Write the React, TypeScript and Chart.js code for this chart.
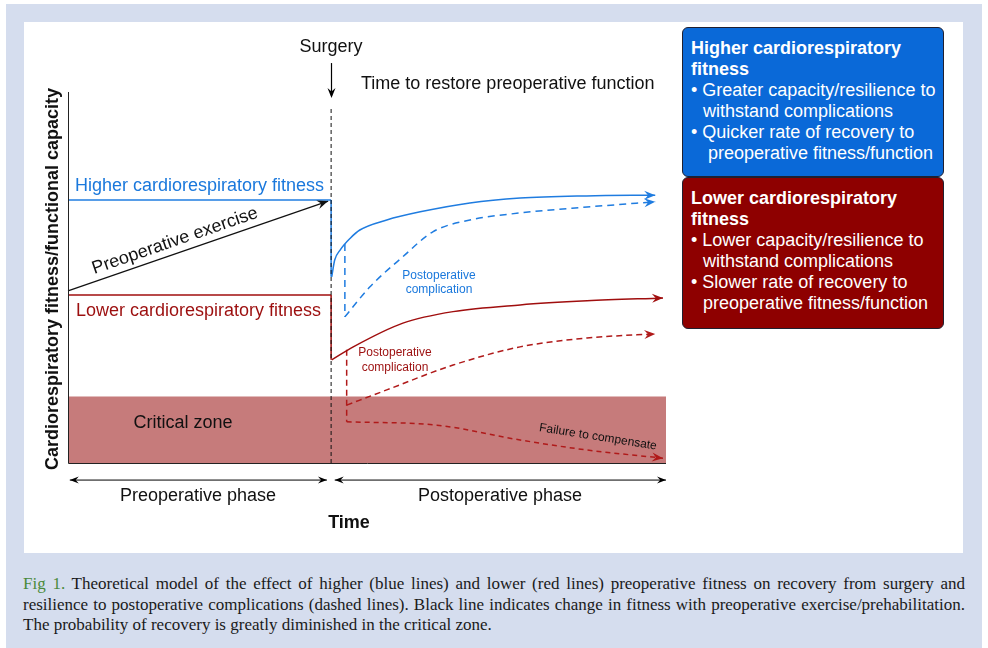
import React, { useEffect, useRef } from "react";
import { Chart, registerables } from "chart.js";

Chart.register(...registerables);

// ---- Data (conceptual fitness model, x = time 0..100, y = fitness 0..100) ----
const surgeryX = 44;
const higherPreY = 70.9;
const lowerPreY = 45.3;
const criticalTop = 17.9;

const exerciseX = [0, 43.5];
const exerciseY = [46.4, 70.6];

const blueRecoveryX = [44.1, 44.6, 45.5, 47.2, 48.8, 53.3, 58.9, 67.2, 75.6, 86.7, 98.2];
const blueRecoveryY = [50.2, 54.7, 57.4, 60.6, 62.8, 65.5, 67.7, 70.1, 71.4, 72.0, 72.2];

const blueDropX = [46.3, 46.3];
const blueDropY = [59.0, 39.4];
const blueComplX = [46.3, 50.5, 56.0, 61.0, 67.2, 75.6, 86.8, 98.2];
const blueComplY = [39.4, 47.5, 55.6, 62.3, 65.5, 67.4, 69.0, 70.4];

const redRecoveryX = [44.1, 47.7, 56.0, 64.4, 75.6, 86.8, 99.5];
const redRecoveryY = [27.8, 31.3, 37.7, 40.8, 42.6, 43.7, 44.5];

const redDropX = [46.6, 46.6];
const redDropY = [30.5, 11.1];
const redComplX = [46.6, 53.3, 64.4, 75.6, 86.8, 98.2];
const redComplY = [15.6, 19.7, 26.4, 31.3, 33.7, 34.8];

const failureX = [46.6, 61.7, 75.6, 86.8, 99.5];
const failureY = [11.1, 10.2, 6.2, 3.5, 1.3];

// ---- Text ----
const yTitle = "Cardiorespiratory fitness/functional capacity";
const xTitle = "Time";
const phaseLabels = ["Preoperative phase", "Postoperative phase"];
const blueBoxTitle = ["Higher cardiorespiratory", "fitness"];
const blueBoxBullets = [
  ["Greater capacity/resilience to", "withstand complications"],
  ["Quicker rate of recovery to", " preoperative fitness/function"],
];
const redBoxTitle = ["Lower cardiorespiratory", "fitness"];
const redBoxBullets = [
  ["Lower capacity/resilience to", "withstand complications"],
  ["Slower rate of recovery to", "preoperative fitness/function"],
];
const captionLines = [
  "Theoretical model of the effect of higher (blue lines) and lower (red lines) preoperative fitness on recovery from surgery and",
  "resilience to postoperative complications (dashed lines). Black line indicates change in fitness with preoperative exercise/prehabilitation.",
  "The probability of recovery is greatly diminished in the critical zone.",
];

const BLUE = "#1f7ce0";
const BLUE_TXT = "#1a78dc";
const RED = "#a00e0e";
const RED_D = "#b01a1a";
const RED_TXT = "#9c0f0f";
const ZONE = "#c67b7b";
const SANS = '"Liberation Sans", Arial, sans-serif';

const pts = (xs: number[], ys: number[]) => xs.map((x, i) => ({ x, y: ys[i] }));

function arrowHead(ctx: CanvasRenderingContext2D, fx: number, fy: number, tx: number, ty: number, color: string, len = 10, w = 4) {
  const a = Math.atan2(ty - fy, tx - fx);
  const c = Math.cos(a), s = Math.sin(a);
  ctx.save();
  ctx.fillStyle = color;
  ctx.setLineDash([]);
  ctx.beginPath();
  ctx.moveTo(tx, ty);
  ctx.lineTo(tx - len * c + w * s, ty - len * s - w * c);
  ctx.lineTo(tx - 0.65 * len * c, ty - 0.65 * len * s);
  ctx.lineTo(tx - len * c - w * s, ty - len * s + w * c);
  ctx.closePath();
  ctx.fill();
  ctx.restore();
}

const OX = 24, OY = 22; // canvas offset on page

const annot = {
  id: "annot",
  afterDatasetsDraw(chart: any) {
    const ctx: CanvasRenderingContext2D = chart.ctx;
    const xs = chart.scales.x, ys = chart.scales.y;
    const X = (v: number) => xs.getPixelForValue(v);
    const Y = (v: number) => ys.getPixelForValue(v);
    const P = (px: number, py: number) => [px - OX, py - OY];

    // arrowheads at ends of flagged datasets
    chart.data.datasets.forEach((ds: any, i: number) => {
      if (!ds.arrow) return;
      const meta = chart.getDatasetMeta(i);
      const d = meta.data;
      const last = d[d.length - 1];
      const prev = d[d.length - 2];
      let fx = prev.x, fy = prev.y;
      if (last.cp1x !== undefined && Math.hypot(last.cp1x - last.x, last.cp1y - last.y) > 2) {
        fx = last.cp1x; fy = last.cp1y;
      }
      arrowHead(ctx, fx, fy, last.x, last.y, ds.borderColor, 11, 4.5);
    });

    ctx.save();
    ctx.setLineDash([]);
    // axes
    ctx.strokeStyle = "#222";
    ctx.lineWidth = 1;
    ctx.beginPath();
    ctx.moveTo(X(0) + 0.5, Y(100));
    ctx.lineTo(X(0) + 0.5, Y(0) + 0.5);
    ctx.lineTo(X(100), Y(0) + 0.5);
    ctx.stroke();

    // surgery arrow
    const sx = Math.round(X(surgeryX)) + 0.5;
    ctx.strokeStyle = "#000";
    ctx.lineWidth = 1.2;
    ctx.beginPath();
    ctx.moveTo(sx, Y(107.8));
    ctx.lineTo(sx, Y(99));
    ctx.stroke();
    arrowHead(ctx, sx, Y(107.8), sx, Y(98.4), "#000", 10, 4);

    // phase arrows
    const pyA = Y(-4.6);
    const seg = (a: number, b: number) => {
      ctx.beginPath();
      ctx.moveTo(a, pyA);
      ctx.lineTo(b, pyA);
      ctx.stroke();
      arrowHead(ctx, b, pyA, a, pyA, "#000", 9, 3.5);
      arrowHead(ctx, a, pyA, b, pyA, "#000", 9, 3.5);
    };
    ctx.lineWidth = 1;
    seg(X(0.3), X(43.3));
    seg(X(44.6), X(100));

    // texts
    const txt = (t: string, px: number, py: number, font: string, color: string, align: CanvasTextAlign = "center", rot = 0) => {
      const [cx, cy] = P(px, py);
      ctx.save();
      ctx.translate(cx, cy);
      ctx.rotate(rot);
      ctx.font = font;
      ctx.fillStyle = color;
      ctx.textAlign = align;
      ctx.textBaseline = "middle";
      ctx.fillText(t, 0, 0);
      ctx.restore();
    };
    txt("Surgery", 331, 47, `18px ${SANS}`, "#111");
    txt("Time to restore preoperative function", 361, 84, `18px ${SANS}`, "#111", "left");
    txt("Higher cardiorespiratory fitness", 75, 186, `18px ${SANS}`, BLUE_TXT, "left");
    txt("Lower cardiorespiratory fitness", 76, 311, `18px ${SANS}`, RED_TXT, "left");
    txt("Preoperative exercise", 175, 241, `18px ${SANS}`, "#111", "center", -19 * Math.PI / 180);
    txt("Postoperative", 439, 276, `12px ${SANS}`, BLUE_TXT);
    txt("complication", 439, 290, `12px ${SANS}`, BLUE_TXT);
    txt("Postoperative", 395, 353, `12px ${SANS}`, RED_TXT);
    txt("complication", 395, 368, `12px ${SANS}`, RED_TXT);
    txt("Failure to compensate", 598, 437, `12px ${SANS}`, "#111", "center", 8.9 * Math.PI / 180);
    txt("Critical zone", 183, 423, `18px ${SANS}`, "#111");
    txt(phaseLabels[0], 198, 496, `18px ${SANS}`, "#111");
    txt(phaseLabels[1], 500, 496, `18px ${SANS}`, "#111");
    txt(xTitle, 349, 523, `bold 18px ${SANS}`, "#111");
    txt(yTitle, 53, 279, `bold 18px ${SANS}`, "#111", "center", -Math.PI / 2);
    ctx.restore();
  },
};

function ChartPanel() {
  const ref = useRef<HTMLCanvasElement>(null);
  useEffect(() => {
    if (!ref.current) return;
    const line = (data: any[], color: string, opts: any = {}) => ({
      data,
      borderColor: color,
      backgroundColor: color,
      borderWidth: 1.5,
      pointRadius: 0,
      fill: false,
      clip: false,
      tension: 0,
      ...opts,
    });
    const chart = new Chart(ref.current, {
      type: "line",
      data: {
        datasets: [
          line(pts([0, surgeryX], [higherPreY, higherPreY]), BLUE),
          line(pts([surgeryX, surgeryX], [higherPreY, blueRecoveryY[0]]), BLUE),
          line(pts(blueRecoveryX, blueRecoveryY), BLUE, { cubicInterpolationMode: "monotone", arrow: true }),
          line(pts(blueDropX, blueDropY), BLUE, { borderDash: [7, 5] }),
          line(pts(blueComplX, blueComplY), BLUE, { cubicInterpolationMode: "monotone", borderDash: [7, 5], arrow: true }),
          line(pts([0, surgeryX], [lowerPreY, lowerPreY]), RED),
          line(pts([surgeryX, surgeryX], [lowerPreY, redRecoveryY[0]]), RED),
          line(pts(redRecoveryX, redRecoveryY), RED, { cubicInterpolationMode: "monotone", arrow: true }),
          line(pts(redDropX, redDropY), RED_D, { borderDash: [6, 4] }),
          line(pts(redComplX, redComplY), RED_D, { cubicInterpolationMode: "monotone", borderDash: [6, 4], arrow: true }),
          line(pts(failureX, failureY), RED_D, { cubicInterpolationMode: "monotone", borderDash: [5, 4], arrow: true }),
          line(pts(exerciseX, exerciseY), "#111", { borderWidth: 1.2, arrow: true }),
          line(pts([surgeryX, surgeryX], [0, 95.7]), "#111", { borderWidth: 1, borderDash: [4, 3], order: -1 }),
          line(pts([0, 100], [criticalTop, criticalTop]), ZONE, {
            borderWidth: 0,
            fill: "origin",
            backgroundColor: ZONE,
            order: 100,
          }),
        ] as any,
      },
      options: {
        responsive: false,
        animation: false,
        devicePixelRatio: 1,
        layout: { padding: { left: 44, top: 70, right: 297, bottom: 90 } },
        scales: {
          x: { type: "linear", min: 0, max: 100, display: false },
          y: { type: "linear", min: 0, max: 100, display: false },
        },
        plugins: { legend: { display: false }, tooltip: { enabled: false } },
      } as any,
      plugins: [annot],
    });
    return () => chart.destroy();
  }, []);
  return <canvas ref={ref} width={939} height={531} style={{ position: "absolute", left: OX, top: OY, width: 939, height: 531 }} />;
}

function InfoBox({ top, height, bg, title, bullets }: any) {
  return (
    <div
      style={{
        position: "absolute",
        left: 682,
        top,
        width: 262,
        height,
        background: bg,
        border: "1px solid #202030",
        borderRadius: 6,
        boxSizing: "border-box",
        padding: "10px 0 0 8px",
        color: "#fff",
        fontFamily: SANS,
        fontSize: 18,
        lineHeight: "21px",
        whiteSpace: "nowrap",
      }}
    >
      <div style={{ fontWeight: "bold" }}>
        {title[0]}
        <br />
        {title[1]}
      </div>
      {bullets.map((b: string[], i: number) => (
        <div key={i} style={{ paddingLeft: 12, textIndent: -12, whiteSpace: "pre" }}>
          {"• " + b[0]}
          <br />
          {b[1]}
        </div>
      ))}
    </div>
  );
}

export default function App() {
  return (
    <div style={{ position: "absolute", left: 0, top: 0, width: 988, height: 648, background: "#fff", overflow: "hidden" }}>
      <div style={{ position: "absolute", left: 6, top: 4, width: 976, height: 644, background: "#d5ddee" }} />
      <div style={{ position: "absolute", left: 24, top: 22, width: 939, height: 531, background: "#fff" }} />
      <ChartPanel />
      <InfoBox top={27} height={150} bg="#0a69d8" title={blueBoxTitle} bullets={blueBoxBullets} />
      <InfoBox top={177} height={152} bg="#8e0000" title={redBoxTitle} bullets={redBoxBullets} />
      <div
        style={{
          position: "absolute",
          left: 23,
          top: 574,
          width: 942,
          fontFamily: '"Liberation Serif", "DejaVu Serif", serif',
          fontSize: 17,
          lineHeight: "20.5px",
          color: "#1a1a1a",
        }}
      >
        {captionLines.map((l, i) => (
          <div key={i} style={{ textAlign: "justify", textAlignLast: i < 2 ? "justify" : "left", whiteSpace: "nowrap" }}>
            {i === 0 ? <span style={{ color: "#4a8a3a" }}>Fig 1. </span> : null}
            {l}
          </div>
        ))}
      </div>
    </div>
  );
}
